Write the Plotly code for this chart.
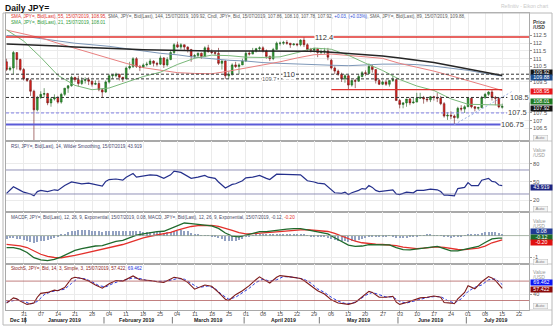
import pandas as pd
import plotly.graph_objects as go

FONT = "Liberation Sans, Arial, sans-serif"

# ---------------- trading days (weekdays, Dec 24 2018 - Jul 15 2019) ----------------
days = pd.bdate_range("2018-12-24", "2019-07-15")
xd = [d.strftime("%Y-%m-%d") + " 12:00" for d in days]

# ---------------- daily candles, JPY= bid ----------------
open_ = [110.8, 110.3, 110.4, 111.4, 110.95, 110.3, 109.7, 109.6, 108.9, 107.7,
         108.5, 108.7, 108.75, 108.15, 108.4, 108.5, 108.2, 108.7, 109.1, 109.25,
         109.8, 109.65, 109.4, 109.6, 109.65, 109.55, 109.35, 109.4, 109.0, 108.85,
         109.5, 109.9, 109.9, 110.0, 109.8, 109.7, 110.4, 110.5, 111.0, 110.5,
         110.45, 110.6, 110.65, 110.85, 110.7, 110.65, 111.05, 110.6, 110.95, 111.4,
         111.9, 111.75, 111.9, 111.75, 111.6, 111.15, 111.2, 111.35, 111.15, 111.7,
         111.45, 111.4, 111.35, 110.7, 110.85, 109.9, 110.0, 110.6, 110.5, 110.6,
         110.85, 111.35, 111.3, 111.5, 111.65, 111.7, 111.5, 111.15, 111.0, 111.6,
         112.0, 112.0, 112.05, 112.0, 111.9, 111.95, 111.9, 112.2, 111.9, 111.6,
         111.55, 111.65, 111.4, 111.45, 111.5, 110.9, 110.4, 110.2, 110.0, 109.7,
         109.9, 109.3, 109.6, 109.55, 109.85, 110.1, 110.05, 110.5, 110.3, 109.6,
         109.35, 109.5, 109.35, 109.6, 109.65, 108.3, 108.05, 108.15, 108.4, 108.15,
         108.2, 108.45, 108.5, 108.4, 108.35, 108.55, 108.5, 108.45, 108.1, 107.3,
         107.35, 107.3, 107.2, 107.8, 107.75, 107.9, 108.45, 107.9, 107.8, 107.85,
         108.5, 108.7, 108.85, 108.5, 108.45, 107.86]
high = [111.0, 110.5, 111.5, 111.4, 111.0, 110.4, 109.75, 109.7, 109.0, 108.6,
        108.9, 109.1, 108.8, 108.5, 108.7, 108.6, 108.8, 109.1, 109.3, 109.9,
        109.8, 109.9, 109.8, 109.8, 109.8, 109.6, 109.6, 109.6, 109.1, 109.6,
        110.0, 110.0, 110.1, 110.0, 109.8, 110.5, 110.8, 111.1, 111.1, 110.6,
        110.7, 110.8, 111.0, 110.9, 110.8, 111.2, 111.1, 111.1, 111.5, 112.0,
        112.1, 112.0, 111.9, 111.8, 111.6, 111.3, 111.4, 111.4, 111.8, 111.9,
        111.6, 111.5, 111.7, 110.9, 110.9, 110.2, 110.7, 110.8, 110.7, 111.0,
        111.5, 111.5, 111.7, 111.7, 111.8, 111.8, 111.6, 111.2, 111.7, 112.1,
        112.1, 112.15, 112.2, 112.0, 112.0, 112.0, 112.25, 112.4, 112.0, 111.7,
        111.7, 111.7, 111.6, 111.7, 111.7, 111.0, 110.5, 110.3, 110.1, 110.0,
        109.95, 109.65, 109.7, 110.0, 110.2, 110.25, 110.7, 110.6, 110.3, 109.7,
        109.6, 109.65, 109.6, 109.9, 109.7, 108.4, 108.2, 108.4, 108.5, 108.5,
        108.8, 108.8, 108.6, 108.5, 108.6, 108.6, 108.8, 108.6, 108.2, 107.55,
        107.6, 107.4, 107.9, 108.0, 108.0, 108.5, 108.5, 107.95, 107.9, 108.6,
        108.8, 108.9, 108.99, 108.6, 108.5, 108.10]
low = [110.2, 110.2, 110.0, 110.3, 110.2, 109.6, 109.5, 108.6, 104.9, 107.6,
       108.4, 108.5, 108.0, 107.9, 108.3, 108.1, 108.1, 108.6, 108.8, 109.2,
       109.5, 109.2, 109.3, 109.4, 109.3, 109.2, 109.3, 108.9, 108.5, 108.8,
       109.4, 109.7, 109.8, 109.6, 109.5, 109.7, 110.3, 110.4, 110.4, 110.2,
       110.4, 110.5, 110.6, 110.5, 110.5, 110.6, 110.4, 110.5, 110.9, 111.3,
       111.7, 111.6, 111.5, 111.4, 110.8, 111.0, 111.1, 111.0, 111.1, 111.4,
       111.3, 111.2, 110.6, 110.3, 109.7, 109.7, 109.9, 110.4, 110.0, 110.6,
       110.8, 111.2, 111.3, 111.4, 111.5, 111.4, 111.0, 110.85, 110.9, 111.6,
       111.85, 111.9, 111.9, 111.7, 111.85, 111.8, 111.8, 111.75, 111.5, 111.4,
       111.4, 111.1, 111.3, 111.3, 110.9, 110.3, 110.0, 109.9, 109.5, 109.45,
       109.0, 109.2, 109.1, 109.5, 109.8, 109.9, 110.0, 110.1, 109.4, 109.3,
       109.3, 109.25, 109.2, 109.5, 108.3, 107.8, 107.8, 107.9, 108.0, 108.1,
       108.2, 108.4, 108.1, 108.2, 108.2, 108.3, 108.2, 108.0, 107.2, 107.05,
       107.1, 106.78, 107.1, 107.6, 107.5, 107.9, 107.8, 107.6, 107.7, 107.8,
       108.4, 108.6, 108.3, 108.0, 107.8, 107.78]
close = [110.3, 110.4, 111.4, 110.95, 110.3, 109.7, 109.6, 108.9, 107.7, 108.5,
         108.7, 108.75, 108.15, 108.4, 108.5, 108.2, 108.7, 109.1, 109.25, 109.8,
         109.65, 109.4, 109.6, 109.65, 109.55, 109.35, 109.4, 109.0, 108.85, 109.5,
         109.9, 109.95, 110.0, 109.8, 109.7, 110.4, 110.5, 111.0, 110.5, 110.45,
         110.6, 110.65, 110.85, 110.7, 110.65, 111.05, 110.6, 110.95, 111.4, 111.9,
         111.75, 111.9, 111.75, 111.6, 111.15, 111.2, 111.35, 111.15, 111.7, 111.45,
         111.4, 111.35, 110.7, 110.85, 109.9, 110.0, 110.6, 110.5, 110.6, 110.85,
         111.35, 111.3, 111.5, 111.65, 111.7, 111.5, 111.15, 111.0, 111.6, 112.0,
         112.0, 112.05, 112.0, 111.9, 111.95, 111.9, 112.2, 111.9, 111.6, 111.55,
         111.65, 111.4, 111.45, 111.5, 111.1, 110.4, 110.2, 110.0, 109.7, 109.9,
         109.3, 109.6, 109.55, 109.85, 110.1, 110.05, 110.5, 110.3, 109.6, 109.35,
         109.5, 109.35, 109.6, 109.65, 108.3, 108.05, 108.15, 108.4, 108.15, 108.2,
         108.45, 108.5, 108.4, 108.35, 108.55, 108.5, 108.45, 108.1, 107.3, 107.35,
         107.3, 107.2, 107.8, 107.75, 107.9, 108.45, 107.9, 107.8, 107.85, 108.5,
         108.7, 108.85, 108.5, 108.45, 107.89, 107.92]

# ---------------- moving averages, sampled each Monday (index into days) ----------------
ma_days = [0, 5, 10, 15, 20, 25, 30, 35, 40, 45, 50, 55, 60, 65, 70,
           75, 80, 85, 90, 95, 100, 105, 110, 115, 120, 125, 130, 135, 140, 145]
sma21 = [112.86, 112.14, 111.09, 109.93, 109.28, 109.0, 109.11, 109.46, 109.85, 110.13,
         110.63, 111.03, 111.23, 111.2, 111.1, 111.08, 111.12, 111.39, 111.69, 111.61,
         111.22, 110.71, 110.24, 109.66, 109.24, 108.95, 108.41, 108.06, 108.05, 108.01]
sma55 = [112.85, 112.6, 112.35, 112.0, 111.68, 111.35, 111.0, 110.7, 110.42, 110.25,
         110.1, 110.05, 110.03, 110.2, 110.4, 110.6, 110.8, 111.05, 111.26, 111.3,
         111.23, 111.12, 111.02, 110.7, 110.45, 110.2, 109.9, 109.6, 109.3, 108.95]
sma89 = [112.5, 112.45, 112.3, 112.15, 112.0, 111.9, 111.8, 111.65, 111.5, 111.35,
         111.25, 111.1, 111.0, 110.9, 110.85, 110.75, 110.7, 110.65, 110.6, 110.58,
         110.55, 110.6, 110.65, 110.65, 110.62, 110.52, 110.4, 110.25, 110.05, 109.88]
sma144 = [111.95, 111.92, 111.88, 111.82, 111.76, 111.7, 111.65, 111.62, 111.58, 111.55,
          111.52, 111.5, 111.5, 111.5, 111.5, 111.5, 111.5, 111.5, 111.48, 111.42,
          111.35, 111.28, 111.18, 111.05, 110.9, 110.75, 110.55, 110.35, 110.12, 109.92]

# ---------------- RSI 14 ----------------
rsi_days = [0, 2, 4, 5, 7, 8, 9, 10, 12, 14, 15, 17, 19, 20, 22, 24, 26, 28, 29, 30,
            32, 34, 35, 37, 38, 40, 42, 44, 46, 48, 49, 51, 53, 54, 56, 58, 59, 61, 62, 64,
            66, 67, 69, 70, 72, 74, 76, 77, 79, 81, 84, 86, 87, 88, 90, 91, 93, 94, 95, 96,
            98, 99, 100, 101, 103, 104, 105, 106, 107, 108, 109, 111, 112, 113, 114, 115, 117, 119, 120, 122,
            124, 126, 127, 128, 129, 131, 132, 134, 135, 136, 138, 139, 141, 142, 143, 144, 145]
rsi = [31, 42, 36, 33, 30, 27, 34, 36, 34, 37, 36, 44, 50, 49, 47, 48, 46, 43, 51, 54,
       55, 53, 58, 64, 58, 60, 62, 61, 56, 62, 68, 66, 60, 56, 58, 61, 58, 56, 50, 40,
       46, 47, 52, 57, 58, 61, 56, 54, 63, 63, 62, 62, 57, 52, 50, 48, 47, 42, 36, 32,
       31, 33, 29, 32, 36, 39, 38, 44, 41, 36, 34, 36, 37, 37, 30, 29, 33, 32, 36, 36,
       38, 37, 34, 28, 28, 27, 39, 41, 49, 44, 44, 53, 56, 51, 50, 45, 43.919]

# ---------------- MACD 12/26/9 ----------------
macd_days = [0, 2, 4, 6, 8, 9] + list(range(10, 145, 2)) + [145]
macd = [-0.55, -0.55, -0.62, -0.78, -1.02, -1.08, -1.12, -1.15, -1.10, -0.98,
        -0.83, -0.68, -0.60, -0.53, -0.48, -0.46, -0.36, -0.27, -0.22, -0.10,
        0.02, 0.08, 0.14, 0.18, 0.20, 0.33, 0.48, 0.58, 0.55, 0.50,
        0.48, 0.45, 0.33, 0.12, -0.02, -0.06, 0.02, 0.10, 0.18, 0.18,
        0.22, 0.28, 0.30, 0.32, 0.32, 0.26, 0.20, 0.16, 0.08, -0.10,
        -0.28, -0.44, -0.50, -0.48, -0.42, -0.42, -0.44, -0.43, -0.55, -0.65,
        -0.66, -0.62, -0.56, -0.52, -0.50, -0.60, -0.70, -0.70, -0.64, -0.56,
        -0.50, -0.32, -0.15, -0.12, -0.12]
signal = [-0.40, -0.43, -0.47, -0.55, -0.70, -0.78, -0.86, -0.96, -1.01, -1.02,
          -0.98, -0.91, -0.84, -0.77, -0.70, -0.64, -0.56, -0.48, -0.41, -0.31,
          -0.20, -0.10, -0.03, 0.03, 0.06, 0.15, 0.25, 0.35, 0.42, 0.46,
          0.47, 0.47, 0.43, 0.35, 0.24, 0.14, 0.08, 0.09, 0.13, 0.14,
          0.16, 0.19, 0.21, 0.24, 0.26, 0.27, 0.25, 0.22, 0.19, 0.10,
          -0.03, -0.16, -0.26, -0.33, -0.37, -0.39, -0.41, -0.42, -0.46, -0.53,
          -0.58, -0.60, -0.58, -0.55, -0.52, -0.54, -0.60, -0.64, -0.65, -0.63,
          -0.58, -0.48, -0.33, -0.24, -0.20]
hist = [-0.15, -0.13, -0.12, -0.14, -0.15, -0.19, -0.23, -0.28, -0.32, -0.30,
        -0.26, -0.23, -0.19, -0.14, -0.09, -0.02, 0.04, 0.09, 0.15, 0.20,
        0.23, 0.24, 0.24, 0.24, 0.24, 0.23, 0.22, 0.20, 0.18, 0.19,
        0.20, 0.21, 0.21, 0.20, 0.19, 0.20, 0.21, 0.22, 0.22, 0.20,
        0.18, 0.17, 0.17, 0.16, 0.15, 0.15, 0.14, 0.15, 0.18, 0.21,
        0.23, 0.24, 0.23, 0.19, 0.13, 0.08, 0.04, 0.02, 0.01, -0.01,
        -0.02, -0.05, -0.10, -0.16, -0.23, -0.25, -0.26, -0.23, -0.20, -0.14,
        -0.06, -0.02, 0.01, 0.03, 0.05, 0.05, 0.04, 0.05, 0.06, 0.08,
        0.09, 0.09, 0.09, 0.08, 0.08, 0.07, 0.06, 0.03, -0.01, -0.03,
        -0.05, -0.06, -0.06, -0.08, -0.11, -0.16, -0.20, -0.24, -0.26, -0.27,
        -0.28, -0.26, -0.24, -0.19, -0.15, -0.10, -0.05, -0.03, -0.03, -0.03,
        -0.03, -0.02, -0.01, -0.03, -0.09, -0.11, -0.12, -0.10, -0.08, -0.05,
        -0.02, 0.01, 0.02, 0.03, 0.03, 0.02, 0.02, 0.01, -0.06, -0.08,
        -0.10, -0.08, -0.06, -0.03, 0.01, 0.05, 0.07, 0.07, 0.08, 0.10,
        0.16, 0.18, 0.18, 0.15, 0.12, 0.08]

# ---------------- slow stochastic 14/3/3 ----------------
k_days = [0, 2, 3, 4, 6, 8, 9, 10, 12, 14, 15, 17, 19, 20, 22, 24, 26, 28, 30, 32,
          34, 36, 37, 39, 42, 44, 46, 49, 51, 53, 55, 58, 60, 62, 64, 65, 67, 69, 71, 73,
          74, 76, 77, 79, 80, 83, 86, 87, 89, 91, 93, 95, 97, 99, 100, 102, 104, 106, 107, 109,
          111, 113, 114, 115, 117, 119, 121, 123, 125, 127, 128, 130, 131, 132, 134, 135, 136, 137, 139, 141,
          142, 143, 144, 145]
stoch_k = [12, 28, 25, 18, 8, 12, 30, 42, 45, 52, 50, 60, 88, 92, 88, 80, 68, 58, 72, 82,
           80, 90, 96, 84, 82, 78, 76, 92, 88, 76, 55, 68, 64, 45, 24, 20, 38, 50, 66, 85,
           93, 80, 74, 92, 97, 93, 88, 82, 65, 50, 40, 22, 12, 10, 8, 14, 30, 48, 45, 30,
           30, 33, 15, 8, 14, 20, 28, 30, 34, 30, 14, 12, 10, 25, 45, 66, 62, 56, 78, 94,
           90, 82, 70, 57.422]
d_days = [0, 3, 5, 7, 9, 11, 13, 15, 17, 19, 21, 23, 25, 27, 29, 31, 33, 35, 37, 39,
          41, 44, 47, 50, 52, 54, 56, 59, 61, 63, 65, 67, 69, 71, 73, 75, 77, 79, 81, 84,
          87, 89, 91, 93, 95, 97, 99, 101, 103, 105, 107, 109, 111, 113, 115, 117, 119, 121, 123, 125,
          127, 129, 131, 133, 135, 137, 139, 141, 143, 145]
stoch_d = [15, 22, 18, 9, 17, 38, 47, 51, 55, 73, 90, 87, 78, 66, 62, 72, 80, 84, 90, 88,
           82, 79, 80, 88, 86, 73, 60, 65, 57, 38, 24, 30, 44, 58, 76, 86, 80, 84, 94, 92,
           86, 74, 56, 45, 30, 18, 11, 11, 20, 36, 45, 38, 31, 31, 17, 12, 18, 25, 29, 32,
           32, 20, 12, 25, 48, 61, 68, 84, 87, 69.462]

# ---------------- drawn levels on the price panel ----------------
lvl_top, lvl_110, lvl_1097, lvl_1085, lvl_1090 = 112.4, 110.0, 109.7, 108.5, 109.0
lvl_1075, lvl_10675 = 107.5, 106.75
trend_x = ["2019-06-25 12:00", "2019-07-18 12:00"]
trend_y = [106.75, 108.9]

# right-axis tick values left visible beside the value tags
price_ticks = [106.5, 107, 107.5, 109.5, 110.5, 111, 111.5, 112, 112.5]
rsi_ticks = [20, 50, 80]
macd_ticks = [-1]
stoch_ticks = [40]


def at(idx):
    return [xd[i] for i in idx]


# ---------------- geometry ----------------
W, H = 554, 328
ML, MR, MT, MB = 6, 25, 13, 18
PW, PH = W - ML - MR, H - MT - MB


def fx(px):
    return (px - ML) / PW


def fy(py):
    return (H - MB - py) / PH


dom_main = [fy(141), 1.0]
dom_rsi = [fy(212), fy(141)]
dom_macd = [fy(264), fy(212)]
dom_stoch = [0.0, fy(264)]

x_range = ["2018-12-24 08:00", "2019-07-25 08:00"]
mondays = pd.date_range("2018-12-31", "2019-07-22", freq="W-MON")
tick_x = [d.strftime("%Y-%m-%d") + " 12:00" for d in mondays]
tick_t = [d.strftime("%d") for d in mondays]

fig = go.Figure()

# price panel
fig.add_trace(go.Candlestick(
    x=xd, open=open_, high=high, low=low, close=close, xaxis="x", yaxis="y",
    increasing=dict(line=dict(color="#1f5f1f", width=0.6), fillcolor="#2f9e33"),
    decreasing=dict(line=dict(color="#701515", width=0.6), fillcolor="#e4231f"),
    whiskerwidth=0, showlegend=False, hoverinfo="skip"))
for vals, col, wd in [(sma89, "#7d97b8", 1.0), (sma55, "#e88080", 1.0),
                      (sma21, "#79b879", 1.0), (sma144, "#262626", 1.5)]:
    fig.add_trace(go.Scatter(x=at(ma_days), y=vals, mode="lines", xaxis="x", yaxis="y",
                             line=dict(color=col, width=wd), hoverinfo="skip", showlegend=False))

# RSI panel
fig.add_trace(go.Scatter(x=at(rsi_days), y=rsi, mode="lines", xaxis="x2", yaxis="y2",
                         line=dict(color="#25308c", width=1.2), hoverinfo="skip", showlegend=False))

# MACD panel
fig.add_trace(go.Bar(x=xd, y=hist, xaxis="x3", yaxis="y3", width=0.3 * 86400000,
                     marker=dict(color="#93a2c2", line=dict(width=0)), hoverinfo="skip", showlegend=False))
fig.add_trace(go.Scatter(x=at(macd_days), y=signal, mode="lines", xaxis="x3", yaxis="y3",
                         line=dict(color="#e3302b", width=1.3), hoverinfo="skip", showlegend=False))
fig.add_trace(go.Scatter(x=at(macd_days), y=macd, mode="lines", xaxis="x3", yaxis="y3",
                         line=dict(color="#1f6a2c", width=1.3), hoverinfo="skip", showlegend=False))

# Stochastic panel
fig.add_trace(go.Scatter(x=at(d_days), y=stoch_d, mode="lines", xaxis="x4", yaxis="y4",
                         line=dict(color="#2b3ce0", width=1.0, dash="3px,2px"), hoverinfo="skip", showlegend=False))
fig.add_trace(go.Scatter(x=at(k_days), y=stoch_k, mode="lines", xaxis="x4", yaxis="y4",
                         line=dict(color="#7d1a1a", width=1.1), hoverinfo="skip", showlegend=False))


def xaxis(anchor, marks):
    return dict(type="date", range=x_range, rangebreaks=[dict(bounds=["sat", "mon"])],
                anchor=anchor, tickmode="array", tickvals=tick_x, ticktext=tick_t,
                showticklabels=False, ticks="outside" if marks else "", ticklen=2, tickcolor="#999",
                showgrid=True, gridcolor="#ebebeb", gridwidth=0.6, zeroline=False,
                showline=True, linecolor="#a9a9a9", linewidth=0.8, mirror=True, fixedrange=True,
                rangeslider=dict(visible=False))


def yaxis(dom, rng, vals, anchor):
    return dict(domain=dom, range=rng, side="right", anchor=anchor, tickmode="array",
                tickvals=vals, ticktext=[f"{v:g}" for v in vals],
                tickfont=dict(size=5.6, color="#555", family=FONT), ticks="outside", ticklen=2,
                tickcolor="#999", showgrid=True, gridcolor="#ebebeb", gridwidth=0.6, zeroline=False,
                showline=True, linecolor="#a9a9a9", linewidth=0.8, mirror=True, fixedrange=True)


fig.update_layout(
    width=W, height=H, margin=dict(l=ML, r=MR, t=MT, b=MB),
    paper_bgcolor="white", plot_bgcolor="white", showlegend=False, bargap=0,
    font=dict(family=FONT),
    xaxis=xaxis("y", False), xaxis2=xaxis("y2", False),
    xaxis3=xaxis("y3", False), xaxis4=xaxis("y4", True),
    yaxis=yaxis(dom_main, [105.69, 113.95], price_ticks, "x"),
    yaxis2=yaxis(dom_rsi, [0, 118.3], rsi_ticks, "x2"),
    yaxis3=yaxis(dom_macd, [-1.309, 1.088], macd_ticks, "x3"),
    yaxis4=yaxis(dom_stoch, [-9.4, 132.9], stoch_ticks, "x4"),
)

shapes = []


def hline(y, yref, xref, x0, x1, color, width, dash="solid"):
    shapes.append(dict(type="line", xref=xref, yref=yref, x0=x0, x1=x1, y0=y, y1=y,
                       line=dict(color=color, width=width, dash=dash), layer="above"))


# price levels
hline(lvl_top, "y", "x domain", 0, 1, "#e0322e", 1.3)
hline(lvl_110, "y", "x domain", 0, 1, "#333333", 1.0, "3px,2px")
hline(lvl_1097, "y", "x domain", 0, 1, "#333333", 1.0, "3px,2px")
hline(lvl_1085, "y", "x", x_range[0], "2019-07-17 00:00", "#333333", 1.0, "3px,2px")
hline(lvl_1090, "y", "x", "2019-05-06 12:00", "2019-07-15 12:00", "#e0322e", 1.3)
hline(lvl_1075, "y", "x", x_range[0], "2019-07-17 00:00", "#8080e6", 1.0, "3px,2px")
hline(lvl_10675, "y", "x", x_range[0], "2019-07-16 12:00", "#5c5cd8", 2.0)
shapes.append(dict(type="line", xref="x", yref="y", x0=trend_x[0], x1=trend_x[1],
                   y0=trend_y[0], y1=trend_y[1], line=dict(color="#98aee0", width=1, dash="2px,2px")))
# oscillator guide lines
hline(70, "y2", "x2 domain", 0, 1, "#7777a6", 0.8)
hline(30, "y2", "x2 domain", 0, 1, "#7777a6", 0.8)
hline(0, "y3", "x3 domain", 0, 1, "#8fa08f", 0.8)
hline(80, "y4", "x4 domain", 0, 1, "#b36060", 0.8)
hline(20, "y4", "x4 domain", 0, 1, "#b36060", 0.8)

# outer frame and panel separators on the axis strip
shapes.append(dict(type="rect", xref="paper", yref="paper", x0=fx(3), x1=fx(552), y0=fy(325), y1=fy(13),
                   line=dict(color="#b8b8b8", width=1)))
for py in (141, 212, 264, 310):
    shapes.append(dict(type="line", xref="paper", yref="paper", x0=1, x1=fx(552), y0=fy(py), y1=fy(py),
                       line=dict(color="#b8b8b8", width=0.8)))
# month separators under the day ticks
for ms in ["2019-01-01 00:00", "2019-02-01 00:00", "2019-03-01 00:00", "2019-04-01 00:00",
           "2019-05-01 00:00", "2019-06-03 00:00", "2019-07-01 00:00"]:
    shapes.append(dict(type="line", xref="x4", yref="paper", x0=ms, x1=ms, y0=fy(317), y1=fy(323.5),
                       line=dict(color="#555", width=0.8)))
fig.update_layout(shapes=shapes)

ann = []


def text(x, y, s, size, color="#333", xref="paper", yref="paper", xanchor="left", bold=False, **kw):
    if bold:
        s = f"<b>{s}</b>"
    ann.append(dict(x=x, y=y, xref=xref, yref=yref, text=s, showarrow=False, xanchor=xanchor,
                    yanchor="middle", font=dict(size=size, color=color, family=FONT), **kw))


# title and faint source line
text(fx(3), fy(8), "Daily JPY=", 8.6, "#111", bold=True)
text(fx(551), fy(6), "Refinitiv - Eikon chart", 5, "#c9c9c9", xanchor="right")

# level labels
text("2019-05-02 12:00", lvl_top, f"{lvl_top:g}", 7.5, "#333", "x", "y", "center", bgcolor="white", borderpad=0)
text("2019-04-18 00:00", lvl_110, f"{lvl_110:g}", 7.5, "#333", "x", "y", "center", bgcolor="white", borderpad=0)
text("2019-04-10 12:00", lvl_1097, f"{lvl_1097:g}", 5.8, "#666", "x", "y", "center", bgcolor="white", borderpad=0)
text("2019-07-22 12:00", lvl_1085, f"{lvl_1085:g}", 7.5, "#444", "x", "y", "center", bgcolor="white", borderpad=0)
text("2019-07-22 00:00", lvl_1075, f"{lvl_1075:g}", 7.5, "#444", "x", "y", "center", bgcolor="white", borderpad=0)
text("2019-07-18 12:00", lvl_10675, f"{lvl_10675:g}", 7.5, "#444", "x", "y", "center", bgcolor="white", borderpad=0)

# study legends
chg = close[-1] - close[-2]
pct = chg / close[-2] * 100
leg1 = (f'<span style="color:#e2312d">SMA, JPY=, Bid(Last), 55, 15/07/2019, {sma55[-1]:.2f},</span> '
        f'<span style="color:#5a5a5a">SMA, JPY=, Bid(Last), 144, 15/07/2019, {sma144[-1]:.2f}, '
        f'Cndl, JPY=, Bid, 15/07/2019, {open_[-1]:.2f}, {high[-1]:.2f}, {low[-1]:.2f}, {close[-1]:.2f},</span> '
        f'<span style="color:#2f4fd8">{chg:+.2f}, ({pct:+.2f}%)</span>'
        f'<span style="color:#5a5a5a">, SMA, JPY=, Bid(Last), 89, 15/07/2019, {sma89[-1]:.2f},</span>')
leg2 = f'<span style="color:#2e9a3a">SMA, JPY=, Bid(Last), 21, 15/07/2019, {sma21[-1]:.2f}</span>'
leg_rsi = f'RSI, JPY=, Bid(Last), 14, Wilder Smoothing, 15/07/2019, {rsi[-1]:.3f}'
leg_macd = (f'MACDF, JPY=, Bid(Last), 12, 26, 9, Exponential, 15/07/2019, {hist[-1]:.2f}, '
            f'MACD, JPY=, Bid(Last), 12, 26, 9, Exponential, 15/07/2019, {macd[-1]:.2f}, '
            f'<span style="color:#e3302b">{signal[-1]:.2f}</span>')
leg_st = (f'<span style="color:#8b1a1a">StochS, JPY=, Bid, 14, 3, Simple, 3, 15/07/2019, {stoch_k[-1]:.3f},</span> '
          f'<span style="color:#2030e0">{stoch_d[-1]:.3f}</span>')
text(fx(9), fy(16.5), leg1, 4.6)
text(fx(9), fy(22.5), leg2, 4.6)
text(fx(9), fy(146.5), leg_rsi, 4.6, "#45456e")
text(fx(9), fy(217.5), leg_macd, 4.6, "#4a4a66")
text(fx(9), fy(268.5), leg_st, 4.6)

# axis titles on the right strip
for top, off, t1, col in [(13, 9, "Price", "#444"), (141, 9, "Value", "#9a9a9a"),
                          (212, 9, "Value", "#9a9a9a"), (264, 8, "Value", "#9a9a9a")]:
    text(fx(531), fy(top + off), t1, 5, col, bold=(t1 == "Price"))
    text(fx(531), fy(top + off + 5), "/USD", 5, col, bold=(t1 == "Price"))

# "Auto" scale buttons
for py in (137.5, 208.5, 262.0, 305.5):
    text(fx(533), fy(py), "Auto", 4.4, "#888", bgcolor="#f3f3f3", bordercolor="#bdbdbd",
         borderwidth=0.5, borderpad=0.3, width=13, height=4.2, align="center")


# last-value tags
def tag(y, yref, s, bg, shift=0):
    ann.append(dict(x=1, xref="paper", xanchor="left", xshift=1, y=y, yref=yref, yanchor="middle",
                    yshift=shift, text=s, showarrow=False, bgcolor=bg, borderpad=0, width=21, height=4.6,
                    align="center", font=dict(size=5.3, color="white", family=FONT)))


tag(sma144[-1], "y", f"{sma144[-1]:.2f}", "#141414", 3.0)
tag(sma89[-1], "y", f"{sma89[-1]:.2f}", "#1f4f8f", -1.0)
tag(sma55[-1], "y", f"{sma55[-1]:.2f}", "#e8161b", -1)
tag(sma21[-1], "y", f"{sma21[-1]:.2f}", "#1e7a22", 4)
tag(close[-1], "y", f"{close[-1]:.2f}", "#141414", -2.5)
tag(rsi[-1], "y2", f"{rsi[-1]:.3f}", "#1d2580", -2)
tag(hist[-1], "y3", f"{hist[-1]:.2f}", "#1f3a93", 2.8)
tag(macd[-1], "y3", f"{macd[-1]:.2f}", "#1d6b2a", 1)
tag(signal[-1], "y3", f"{signal[-1]:.2f}", "#e01010", -2.8)
tag(stoch_d[-1], "y4", f"{stoch_d[-1]:.3f}", "#0a14f5", 2.0)
tag(stoch_k[-1], "y4", f"{stoch_k[-1]:.3f}", "#8b0a0a", -0.8)

# day numbers under each Monday and month names below them
for tx, tt in zip(tick_x, tick_t):
    text(tx, fy(314), tt, 5.6, "#555", xref="x4", xanchor="center")
text(fx(8), fy(320.5), "Dec 18", 5.2, "#222", bold=True)
for mx, name in [("2019-01-16 12:00", "January 2019"), ("2019-02-14 12:00", "February 2019"),
                 ("2019-03-15 12:00", "March 2019"), ("2019-04-16 12:00", "April 2019"),
                 ("2019-05-16 12:00", "May 2019"), ("2019-06-14 12:00", "June 2019"),
                 ("2019-07-11 12:00", "July 2019")]:
    text(mx, fy(320.5), name, 5.2, "#222", xref="x4", xanchor="center", bold=True)

fig.update_layout(annotations=ann)
fig.write_html("out.html")
